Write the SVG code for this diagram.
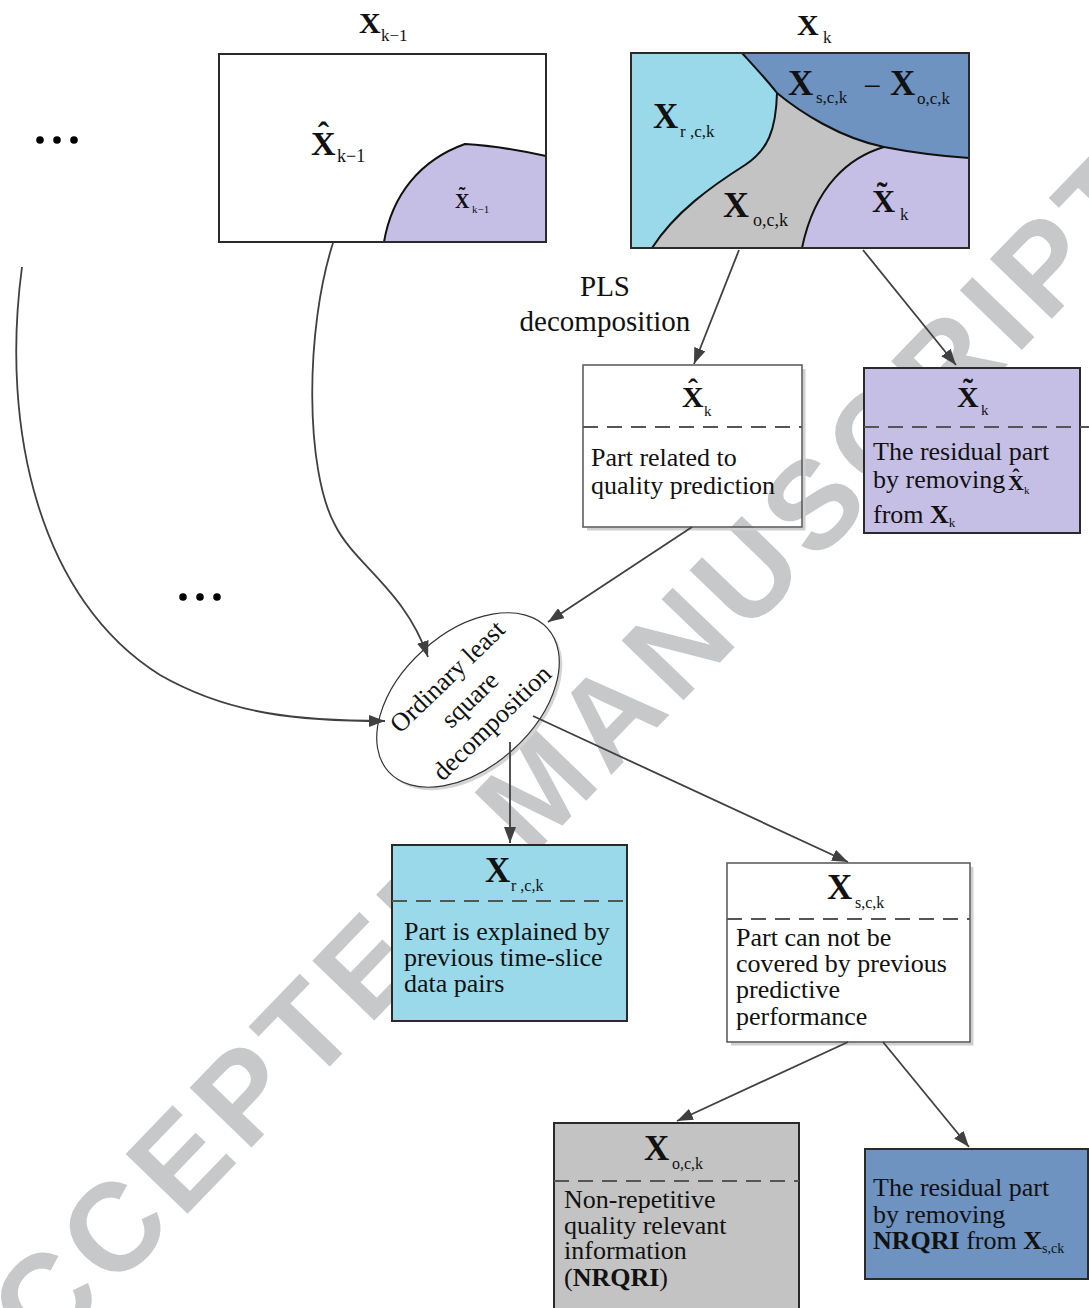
<svg xmlns="http://www.w3.org/2000/svg" width="1089" height="1308" viewBox="0 0 1089 1308">
<defs>
<style>
.t{font-family:"Liberation Serif","Times New Roman",serif;fill:#111;}
.b{font-weight:bold;}
.body{font-size:26px;}
.box{stroke:#2a2a2a;stroke-width:2;}
.wbox{fill:none;stroke:#555;stroke-width:1.5;}
.dash{stroke:#555;stroke-width:2;stroke-dasharray:15 9;fill:none;}
.conn{stroke:#404040;stroke-width:1.8;fill:none;}
.curve{stroke:#111;stroke-width:2;fill:none;}
.shadow{stroke:#cfcfcf;stroke-width:3;fill:none;}
.wm{font-family:"Liberation Sans",Arial,sans-serif;font-weight:bold;fill:#c7c8ca;}
</style>
<marker id="ah" viewBox="0 0 16 12" refX="16" refY="6" markerWidth="16" markerHeight="12" orient="auto" markerUnits="userSpaceOnUse">
<path d="M0,0 L16,6 L0,12 z" fill="#404040"/>
</marker>
</defs>
<rect width="1089" height="1308" fill="#fff"/>

<!-- watermark -->
<g id="watermark">
<text class="wm" transform="translate(540,784) rotate(-46)" x="0" y="45" font-size="125" letter-spacing="8.5" text-anchor="middle">ACCEPTED MANUSCRIPT</text>
</g>

<!-- X_{k-1} -->
<g id="node-xkm1">
<text class="t b" x="359" y="33" font-size="30">X</text>
<text class="t" x="381" y="41" font-size="17">k−1</text>
<rect x="219" y="54" width="327" height="188" fill="#fff"/>
<path d="M384,242 C392,195 420,160 465,144 Q500,146 546,156 L546,242 Z" fill="#c6bfe5" stroke="#111" stroke-width="2"/>
<rect x="219" y="54" width="327" height="188" fill="none" class="box"/>
<text class="t b" x="311" y="155" font-size="34">X</text>
<text class="t b" x="323.5" y="146" font-size="34" text-anchor="middle">ˆ</text>
<text class="t" x="337" y="162" font-size="18">k−1</text>
<text class="t b" x="455" y="208" font-size="20">X</text>
<text class="t b" x="462" y="202" font-size="20" text-anchor="middle">˜</text>
<text class="t" x="472" y="213" font-size="11">k−1</text>
</g>

<!-- X_k -->
<g id="node-xk">
<text class="t b" x="797" y="35" font-size="30">X</text>
<text class="t" x="823" y="43" font-size="17">k</text>
<rect x="631" y="53" width="338" height="195" fill="#c3c3c3"/>
<path d="M631,53 L742,53 C752,64 767,80 777,93 C776,130 768,150 745,165 C712,186 675,212 652,248 L631,248 Z" fill="#99d9ea"/>
<path d="M742,53 L969,53 L969,158 Q925,155 884,147 C840,138 800,112 777,93 C767,80 752,64 742,53 Z" fill="#6e93c0"/>
<path d="M884,147 Q925,155 969,158 L969,248 L802,248 C815,185 850,157 884,147 Z" fill="#c6bfe5"/>
<path class="curve" d="M742,53 C752,64 767,80 777,93 C800,112 840,138 884,147 Q925,155 969,158"/>
<path class="curve" d="M777,93 C776,130 768,150 745,165 C712,186 675,212 652,248"/>
<path class="curve" d="M884,147 C850,157 815,185 802,248"/>
<rect x="631" y="53" width="338" height="195" fill="none" class="box"/>
<text class="t b" x="653" y="128" font-size="35">X</text>
<text class="t" x="680" y="137" font-size="17">r ,c,k</text>
<text class="t b" x="788" y="95" font-size="35">X</text>
<text class="t" x="816" y="103" font-size="17">s,c,k</text>
<text class="t" x="872" y="97" font-size="32" text-anchor="middle">−</text>
<text class="t b" x="890" y="95" font-size="35">X</text>
<text class="t" x="917" y="104" font-size="17">o,c,k</text>
<text class="t b" x="723" y="217" font-size="36">X</text>
<text class="t" x="753" y="226" font-size="18">o,c,k</text>
<text class="t b" x="872" y="212" font-size="32">X</text>
<text class="t b" x="882" y="204" font-size="32" text-anchor="middle">˜</text>
<text class="t" x="900" y="220" font-size="17">k</text>
</g>

<!-- PLS label -->
<g id="label-pls">
<text class="t" x="605" y="296" font-size="29" text-anchor="middle">PLS</text>
<text class="t" x="605" y="331" font-size="29" text-anchor="middle">decomposition</text>
</g>

<!-- X^hat_k box -->
<g id="node-xhatk">
<path class="shadow" d="M804,369 V529 H587"/>
<rect x="583" y="365" width="219" height="162" class="wbox"/>
<text class="t b" x="682" y="407" font-size="30">X</text>
<text class="t b" x="693" y="399" font-size="30" text-anchor="middle">ˆ</text>
<text class="t" x="704" y="416" font-size="15">k</text>
<line x1="583" y1="427" x2="802" y2="427" class="dash"/>
<text class="t body" x="591" y="466">Part related to</text>
<text class="t body" x="591" y="494">quality prediction</text>
</g>

<!-- X^tilde_k box -->
<g id="node-xtildek">
<rect x="864" y="368" width="216" height="165" fill="#c6bfe5" class="box"/>
<text class="t b" x="957" y="407" font-size="30">X</text>
<text class="t b" x="968" y="399" font-size="30" text-anchor="middle">˜</text>
<text class="t" x="981" y="415" font-size="15">k</text>
<line x1="864" y1="427" x2="1089" y2="427" class="dash"/>
<text class="t body" x="873" y="460">The residual part</text>
<text class="t body" x="873" y="488">by removing</text>
<text class="t b" x="1008" y="490" font-size="22">X</text>
<text class="t b" x="1016" y="484" font-size="22" text-anchor="middle">ˆ</text>
<text class="t" x="1024" y="494" font-size="11">k</text>
<text class="t body" x="873" y="523">from <tspan class="b">X</tspan><tspan font-size="13" dy="4">k</tspan></text>
</g>

<!-- ellipse -->
<g id="node-ols">
<ellipse cx="471" cy="703" rx="107" ry="67" transform="rotate(-42 471 703)" fill="#d4d4d4"/>
<ellipse cx="468" cy="700" rx="107" ry="67" transform="rotate(-42 468 700)" fill="#fff" stroke="#333" stroke-width="1.2"/>
<g transform="translate(470,700) rotate(-44)">
<text class="t" x="0" y="-24" font-size="26" text-anchor="middle">Ordinary least</text>
<text class="t" x="0" y="8" font-size="26" text-anchor="middle">square</text>
<text class="t" x="0" y="40" font-size="26" text-anchor="middle">decomposition</text>
</g>
</g>

<!-- X_{r,c,k} box -->
<g id="node-xrck">
<rect x="392" y="845" width="235" height="176" fill="#99d9ea" class="box"/>
<text class="t b" x="485" y="882" font-size="35">X</text>
<text class="t" x="511" y="891" font-size="16">r ,c,k</text>
<line x1="392" y1="901" x2="627" y2="901" class="dash"/>
<text class="t body" x="404" y="940">Part is explained by</text>
<text class="t body" x="404" y="966">previous time-slice</text>
<text class="t body" x="404" y="992">data pairs</text>
</g>

<!-- X_{s,c,k} box -->
<g id="node-xsck">
<path class="shadow" d="M972,867 V1044 H731"/>
<rect x="727" y="863" width="243" height="179" class="wbox"/>
<text class="t b" x="827" y="899" font-size="35">X</text>
<text class="t" x="855" y="908" font-size="16">s,c,k</text>
<line x1="727" y1="919" x2="970" y2="919" class="dash"/>
<text class="t body" x="736" y="946">Part can not be</text>
<text class="t body" x="736" y="972">covered by previous</text>
<text class="t body" x="736" y="998">predictive</text>
<text class="t body" x="736" y="1025">performance</text>
</g>

<!-- X_{o,c,k} box -->
<g id="node-xock">
<rect x="554" y="1123" width="245" height="195" fill="#c3c3c3" class="box"/>
<text class="t b" x="644" y="1160" font-size="35">X</text>
<text class="t" x="672" y="1169" font-size="16">o,c,k</text>
<line x1="554" y1="1181" x2="799" y2="1181" class="dash"/>
<text class="t body" x="564" y="1208">Non-repetitive</text>
<text class="t body" x="564" y="1234">quality relevant</text>
<text class="t body" x="564" y="1259">information</text>
<text class="t body" x="564" y="1286">(<tspan class="b">NRQRI</tspan>)</text>
</g>

<!-- residual NRQRI box -->
<g id="node-residual2">
<rect x="865" y="1149" width="223" height="130" fill="#6e93c0" class="box"/>
<text class="t body" x="873" y="1196">The residual part</text>
<text class="t body" x="873" y="1223">by removing</text>
<text class="t body" x="873" y="1249"><tspan class="b">NRQRI</tspan> from <tspan class="b">X</tspan><tspan font-size="14" dy="4">s,ck</tspan></text>
</g>

<!-- ellipsis dots -->
<g id="dots">
<circle cx="40" cy="140" r="3.8" fill="#000"/>
<circle cx="57" cy="140" r="3.8" fill="#000"/>
<circle cx="74" cy="140" r="3.8" fill="#000"/>
<circle cx="183" cy="597" r="3.8" fill="#000"/>
<circle cx="200" cy="597" r="3.8" fill="#000"/>
<circle cx="217" cy="597" r="3.8" fill="#000"/>
</g>

<!-- connectors -->
<g id="connectors">
<line class="conn" x1="739" y1="250" x2="694" y2="364" marker-end="url(#ah)"/>
<line class="conn" x1="863" y1="250" x2="956" y2="365" marker-end="url(#ah)"/>
<line class="conn" x1="692" y1="527" x2="548" y2="622" marker-end="url(#ah)"/>
<path class="conn" d="M333,243 C305,330 305,470 335,525 C355,565 405,590 428,657" marker-end="url(#ah)"/>
<path class="conn" d="M22,267 C0,430 40,600 160,675 C230,715 300,721 385,721" marker-end="url(#ah)"/>
<line class="conn" x1="510" y1="742" x2="510" y2="843" marker-end="url(#ah)"/>
<line class="conn" x1="533" y1="716" x2="848" y2="862" marker-end="url(#ah)"/>
<line class="conn" x1="848" y1="1042" x2="677" y2="1121" marker-end="url(#ah)"/>
<line class="conn" x1="883" y1="1042" x2="969" y2="1147" marker-end="url(#ah)"/>
</g>
</svg>
